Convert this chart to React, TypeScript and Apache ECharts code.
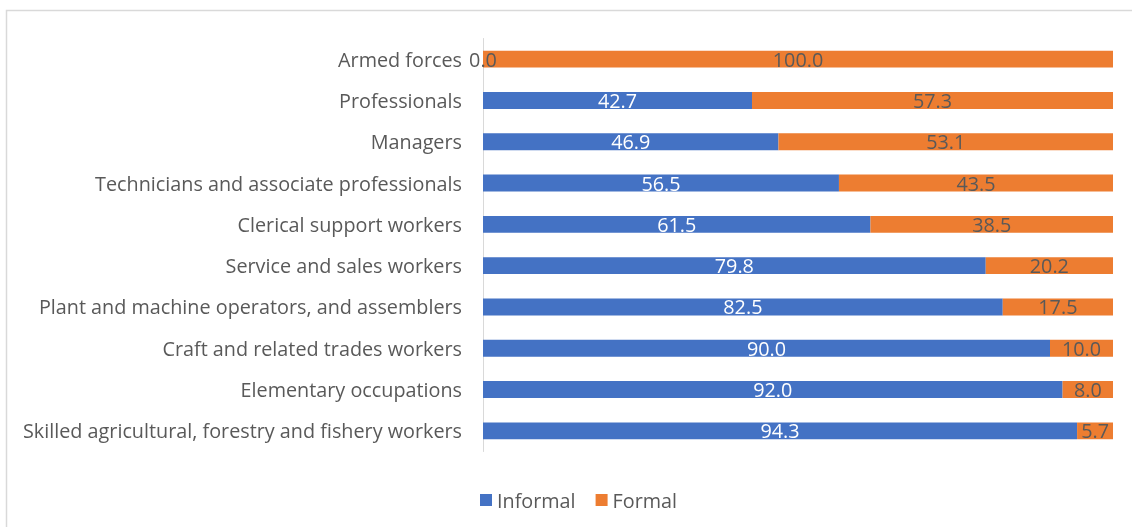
import React, { useEffect, useRef } from "react";
import * as echarts from "echarts";

const categories = [
  "Armed forces",
  "Professionals",
  "Managers",
  "Technicians and associate professionals",
  "Clerical support workers",
  "Service and sales workers",
  "Plant and machine operators, and assemblers",
  "Craft and related trades workers",
  "Elementary occupations",
  "Skilled agricultural, forestry and fishery workers",
];
const informal = [0.0, 42.7, 46.9, 56.5, 61.5, 79.8, 82.5, 90.0, 92.0, 94.3];
const formal = [100.0, 57.3, 53.1, 43.5, 38.5, 20.2, 17.5, 10.0, 8.0, 5.7];

const FONT = "Open Sans";
const GRAY = "#595959";
const FS = 19.8;

export default function App() {
  const ref = useRef<HTMLDivElement>(null);
  useEffect(() => {
    const chart = echarts.init(ref.current!, null, { renderer: "svg" });
    const fmt = (p: any) => Number(p.value).toFixed(1);
    chart.setOption({
      animation: false,
      textStyle: { fontFamily: FONT },
      graphic: [
        {
          type: "rect",
          shape: { x: 6.5, y: 10.5, width: 1200, height: 600 },
          style: { fill: "none", stroke: "#d9d9d9", lineWidth: 1.5 },
          silent: true,
        },
      ],
      legend: {
        top: 485,
        left: 475,
        itemWidth: 12,
        itemHeight: 12,
        itemGap: 20,
        icon: "rect",
        textStyle: { fontFamily: FONT, fontSize: FS, color: GRAY },
        data: ["Informal", "Formal"],
      },
      grid: { left: 483, right: 19, top: 38.5, height: 413 },
      xAxis: {
        type: "value",
        min: 0,
        max: 100,
        show: false,
      },
      yAxis: {
        type: "category",
        inverse: true,
        data: categories,
        axisLine: { show: true, lineStyle: { color: "#d9d9d9", width: 1 } },
        axisTick: { show: false },
        axisLabel: {
          fontFamily: FONT,
          fontSize: FS,
          color: GRAY,
          margin: 21,
        },
      },
      series: [
        {
          name: "Informal",
          type: "bar",
          stack: "total",
          data: informal.map((v) =>
            v === 0 ? { value: v, label: { color: GRAY } } : v
          ),
          barCategoryGap: "59%",
          itemStyle: { color: "#4472C4" },
          label: {
            show: true,
            position: "inside",
            color: "#ffffff",
            fontFamily: FONT,
            fontSize: FS,
            formatter: fmt,
          },
        },
        {
          name: "Formal",
          type: "bar",
          stack: "total",
          data: formal,
          itemStyle: { color: "#ED7D31" },
          label: {
            show: true,
            position: "inside",
            color: GRAY,
            fontFamily: FONT,
            fontSize: FS,
            formatter: fmt,
          },
        },
      ],
    });
    return () => chart.dispose();
  }, []);
  return (
    <div
      ref={ref}
      style={{ position: "fixed", left: 0, top: 0, width: 1132, height: 527 }}
    />
  );
}
